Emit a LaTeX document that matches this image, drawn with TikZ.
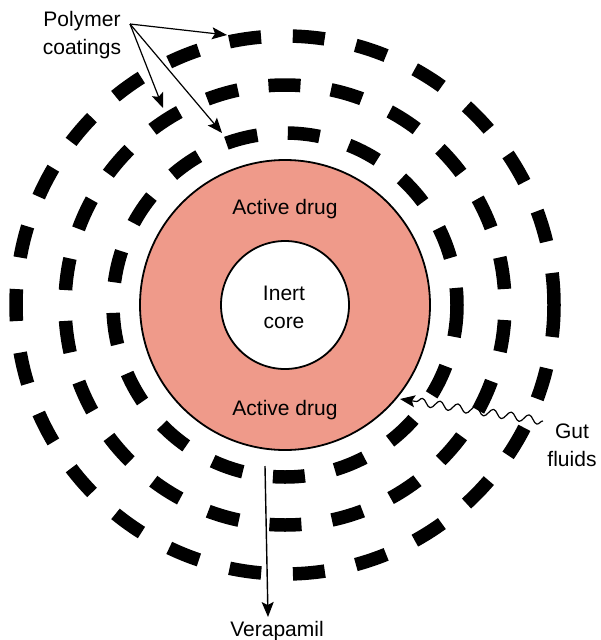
\documentclass[tikz,border=0pt]{standalone}
\usepackage{fontspec}
\setmainfont{Liberation Sans}
\usetikzlibrary{arrows.meta,decorations.pathmorphing}
\definecolor{drugpink}{HTML}{EF9A8A}
\definecolor{coatfg}{HTML}{000000}

\begin{document}
\begin{tikzpicture}[x=1pt, y=-1pt, line join=round, >={Stealth[length=15pt,width=12pt,inset=3pt]},
  lbl/.style={font=\fontsize{21}{27.5}\selectfont, align=center, anchor=base, inner sep=0pt},
  coat/.style={draw=coatfg, line width=13.5pt, line cap=butt},
  pointer/.style={->, draw=coatfg, line width=1.2pt}]
  \useasboundingbox (0,0) rectangle (600,640);
  \coordinate (cen) at (285,305);
  \filldraw[fill=drugpink, draw=coatfg, line width=1.8pt] (cen) circle[radius=145];
  \filldraw[fill=white, draw=coatfg, line width=1.8pt] (cen) circle[radius=64];
  \draw[coat, dash pattern=on 32pt off 30.57pt] (cen) circle[radius=172];
  \draw[coat, dash pattern=on 32pt off 30.83pt, dash phase=47.8pt] (cen) circle[radius=220];
  \draw[coat, dash pattern=on 32pt off 31.78pt] (cen) circle[radius=269];

  \node[lbl] (coretxt) at (284,328) {Inert\\core};
  \node[lbl] (drugtop) at (285,214) {Active drug};
  \node[lbl] (drugbot) at (285,415) {Active drug};
  \node[lbl] (polytxt) at (82,54) {Polymer\\coatings};
  \node[lbl] (guttxt) at (572,466) {Gut\\fluids};
  \node[lbl] (veratxt) at (277,636) {Verapamil};

  \coordinate (polyfrom) at (130,24);
  \coordinate (outerhit) at (227,35);
  \coordinate (middlehit) at (163,108);
  \coordinate (innerhit) at (222,133);
  \draw[pointer] (polyfrom) -- (outerhit);
  \draw[pointer] (polyfrom) -- (middlehit);
  \draw[pointer] (polyfrom) -- (innerhit);

  \coordinate (gutfrom) at (543,421);
  \coordinate (drughit) at (400,399);
  \draw[pointer, decorate, decoration={snake, amplitude=4pt, segment length=18pt, post length=12pt}] (gutfrom) -- (drughit);

  \coordinate (verafrom) at (265,466);
  \coordinate (verato) at (268,617);
  \draw[pointer, line width=1.4pt] (verafrom) -- (verato);
\end{tikzpicture}
\end{document}
